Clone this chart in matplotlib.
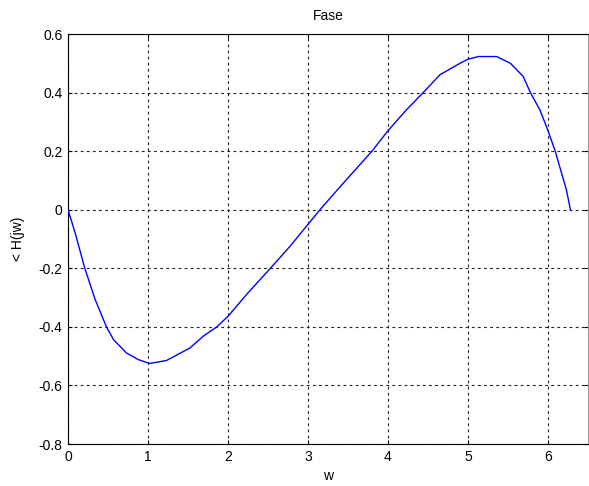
import matplotlib
matplotlib.use("Agg")
import matplotlib.pyplot as plt
import numpy as np

# ── data ────────────────────────────────────────────────────────────────────
w_vals = [0.0, 0.09, 0.18, 0.21, 0.34, 0.48, 0.57, 0.73, 0.88, 1.02, 1.23,
          1.525, 1.69, 1.86, 2.0, 2.23, 2.53, 2.775, 3.03, 3.15, 3.4, 3.8,
          4.0, 4.23, 4.44, 4.65, 4.9, 5.0, 5.13, 5.36, 5.53, 5.69, 5.78,
          5.9, 6.0, 6.09, 6.23, 6.28]
phase = [0.0, -0.08, -0.17, -0.20, -0.307, -0.40, -0.444, -0.489, -0.512,
         -0.525, -0.515, -0.472, -0.432, -0.40, -0.364, -0.29, -0.20, -0.125,
         -0.04, 0.0, 0.078, 0.20, 0.270, 0.341, 0.40, 0.461, 0.50, 0.514,
         0.523, 0.523, 0.50, 0.455, 0.40, 0.34, 0.27, 0.20, 0.068, 0.0]

x_ticks = [0, 1, 2, 3, 4, 5, 6]
y_ticks = [-0.8, -0.6, -0.4, -0.2, 0, 0.2, 0.4, 0.6]
y_ticklabels = ["-0.8", "-0.6", "-0.4", "-0.2", "0", "0.2", "0.4", "0.6"]

FONT = "Liberation Sans"

fig = plt.figure(figsize=(5.89, 4.86), dpi=100)
fig.patch.set_facecolor("white")
ax = fig.add_axes([68 / 589, 42 / 486, 520 / 589, 410 / 486])

ax.plot(w_vals, phase, color="#0000ff", linewidth=1.0, zorder=3)

ax.set_xlim(0, 6.5)
ax.set_ylim(-0.8, 0.6)
ax.set_xticks(x_ticks)
ax.set_xticklabels([str(t) for t in x_ticks], fontsize=10, fontfamily=FONT)
ax.set_yticks(y_ticks)
ax.set_yticklabels(y_ticklabels, fontsize=10, fontfamily=FONT)
ax.tick_params(direction="in", length=3, width=0.8, top=True, right=True,
               pad=4, colors="black")

ax.grid(True, color="#202020", linestyle=(0, (2.5, 3)), linewidth=0.8)
for s in ax.spines.values():
    s.set_color("black")
    s.set_linewidth(0.8)
ax.spines["right"].set_color("#999999")

ax.set_title("Fase", fontsize=10, fontfamily=FONT, pad=10)
ax.set_xlabel("w", fontsize=10, fontfamily=FONT, labelpad=4)
ax.set_ylabel("< H(jw)", fontsize=10, fontfamily=FONT, labelpad=10)

fig.savefig("out.png", dpi=100, facecolor="white")
